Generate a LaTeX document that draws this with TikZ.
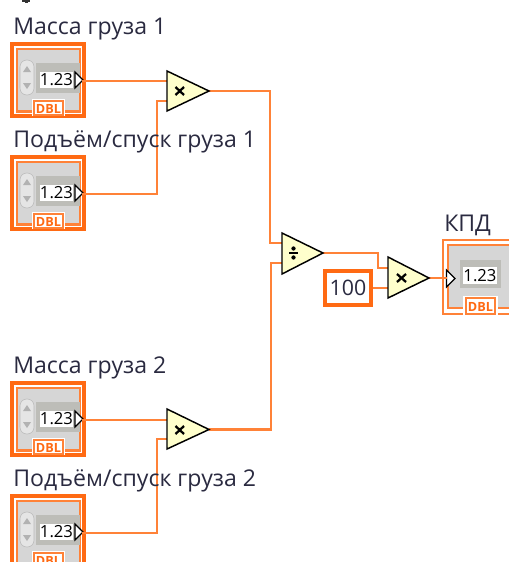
\documentclass[tikz,border=0pt]{standalone}
\usepackage{fontspec}
\setmainfont{Open Sans}
\definecolor{dblo}{HTML}{FF6A13}
\definecolor{wireo}{HTML}{FF8238}
\definecolor{pgray}{HTML}{D6D6D6}
\definecolor{dgray}{HTML}{BDBDB8}
\definecolor{primy}{HTML}{FFFFCC}
\definecolor{lbl}{HTML}{2A2A40}
\tikzset{
  px/.style={x=0.75pt,y=-0.75pt},
  wire/.style={draw=wireo,line width=1.7pt,line join=miter},
  lab/.style={anchor=base west,inner sep=0pt,text=lbl,font=\fontsize{17.3}{19}\selectfont},
  prim/.style={draw=black,fill=primy,line width=1.1pt,line join=miter},
  dbltxt/.style={inner sep=0pt,text=dblo,font=\bfseries\fontsize{9.5}{10}\selectfont},
  numtxt/.style={inner sep=0pt,text=black,font=\fontsize{12.5}{14}\selectfont},
}
% #1 = name, #2 = top y
\newcommand{\ctrlterm}[2]{%
  \begin{scope}[shift={(0,#2)}]
    \fill[dblo] (10,0) rectangle (86,76);
    \fill[white] (14,4) rectangle (82,72);
    \fill[wireo] (15.5,5.5) rectangle (80.5,70.5);
    \fill[pgray] (18,8) rectangle (79,68);
    \fill[dgray] (36,21) rectangle (80,51);
    \fill[black!10,draw=black!28,rounded corners=5pt] (20,18) rectangle (34,53);
    \fill[black!30] (27,24) -- (31,30) -- (23,30) -- cycle;
    \fill[black!30] (27,47) -- (31,41) -- (23,41) -- cycle;
    \node[coordinate] (#1-out) at (82,39) {};
    \node[fill=white,inner sep=0pt,minimum width=24.5pt,minimum height=12pt] (#1-num) at (56.5,37.5) {};
    \node[numtxt] at (#1-num) {1.23};
    \filldraw[fill=white,draw=black,line width=0.9pt] (75,30) -- (83,38) -- (75,46) -- cycle;
    \fill[white] (32,57) rectangle (65,74);
    \fill[wireo] (33,58) rectangle (64,73.5);
    \fill[white] (35,60) rectangle (62,72);
    \node[dbltxt] at (48.5,66.5) {DBL};
  \end{scope}}
\begin{document}
\begin{tikzpicture}[px]
\useasboundingbox (0,0) rectangle (509,562);
\fill[white] (0,0) rectangle (509,562);
\begin{scope}
\clip (0,0) rectangle (509,562);
% stray fragment at top
\fill[black!80] (22,0) rectangle (30,1.5);
\fill[black!80] (25,1.5) rectangle (27.5,3);
\ctrlterm{ca}{42}
\ctrlterm{cb}{155}
\ctrlterm{cc}{381}
\ctrlterm{cd}{494}
% indicator
\fill[wireo] (442,239) rectangle (520,315);
\fill[white] (444,241) rectangle (520,313);
\fill[wireo] (447,244) rectangle (520,309);
\fill[pgray] (449,246) rectangle (520,307);
\node[coordinate] (ind-in) at (447,278) {};
\fill[dgray] (460,260) rectangle (501,288);
\node[fill=white,inner sep=0pt,minimum width=25pt,minimum height=12.5pt] (ind-num) at (480,275.5) {};
\node[numtxt] at (ind-num) {1.23};
\filldraw[fill=white,draw=black,line width=0.9pt] (446.5,270) -- (455,278.5) -- (446.5,287) -- cycle;
\fill[white] (463,296) rectangle (498,315);
\fill[wireo] (465,297) rectangle (496,315);
\fill[white] (467,299) rectangle (494,313);
\node[dbltxt] at (480.5,306.5) {DBL};
\end{scope}
% multiply / divide
\coordinate (m1a) at (167,81); \coordinate (m1b) at (167,101); \coordinate (m1o) at (209,91);
\coordinate (m2a) at (167,420); \coordinate (m2b) at (167,439); \coordinate (m2o) at (209,429.5);
\coordinate (da) at (282,243); \coordinate (db) at (282,263); \coordinate (do) at (323,253);
\coordinate (m3a) at (388,268); \coordinate (m3b) at (388,288); \coordinate (m3o) at (429,278);
\node[coordinate] (k-out) at (373,288) {};
% wires
\draw[wire] (ca-out) -- (m1a);
\draw[wire] (cb-out) -- (157,194) |- (m1b);
\draw[wire] (m1o) -- (270,91) |- (da);
\draw[wire] (cc-out) -- (m2a);
\draw[wire] (cd-out) -- (157,533) |- (m2b);
\draw[wire] (m2o) -- (271,429.5) |- (db);
\draw[wire] (do) -- (378,253) |- (m3a);
\draw[wire] (k-out) -- (m3b);
\draw[wire] (m3o) -- (ind-in);
% constant
\node[draw=dblo,line width=3pt,fill=white,minimum width=35pt,minimum height=26pt,inner sep=0pt,text=lbl,font=\fontsize{16}{18}\selectfont] (k) at (348,288) {100};
% primitives
\filldraw[prim] (167,71) -- (209,91) -- (167,111) -- cycle;
\filldraw[prim] (167,409) -- (209,429.5) -- (167,449) -- cycle;
\filldraw[prim] (282,233) -- (323,253) -- (282,274) -- cycle;
\filldraw[prim] (388,257) -- (429,278) -- (388,298) -- cycle;
% symbols
\draw[line width=1.7pt] (175.5,87) -- (184,95) (184,87) -- (175.5,95);
\draw[line width=1.7pt] (175.5,426) -- (184,434) (184,426) -- (175.5,434);
\draw[line width=1.7pt] (397,274) -- (406,282) (406,274) -- (397,282);
\draw[line width=1.3pt] (289,253) -- (298,253);
\fill (293.5,248.5) circle (1.6pt) (293.5,257.5) circle (1.6pt);
% labels
\node[lab] (l1) at (13,34) {Масса груза 1};
\node[lab] (l2) at (13,147) {Подъём/спуск груза 1};
\node[lab] (l3) at (13,373) {Масса груза 2};
\node[lab] (l4) at (13,486) {Подъём/спуск груза 2};
\node[lab] (l5) at (444,231) {КПД};
\end{tikzpicture}
\end{document}
